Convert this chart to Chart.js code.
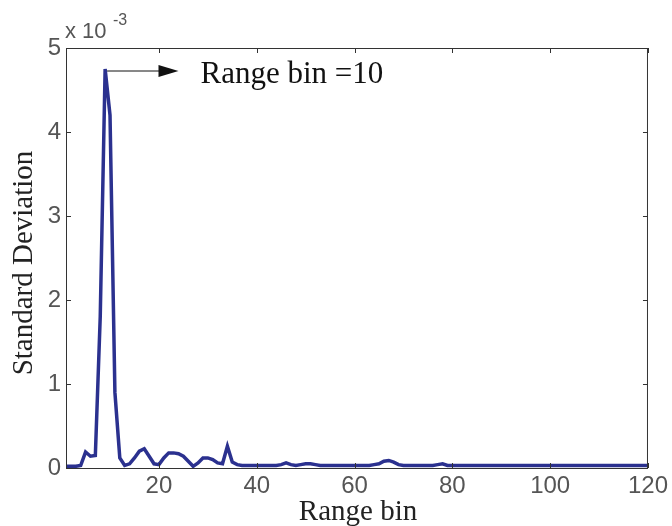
<!DOCTYPE html>
<html>
<head>
<meta charset="utf-8">
<script src="https://cdn.jsdelivr.net/npm/chart.js@4.4.0/dist/chart.umd.min.js"></script>
<style>
  html, body { margin: 0; padding: 0; background: #fff; }
  #wrap { width: 672px; height: 526px; }
</style>
</head>
<body>
<div id="wrap"><canvas id="c" width="672" height="526"></canvas></div>
<script>
// standard deviation per range bin, in units of 1e-3
const stdDev = [
  0.02, 0.02, 0.02, 0.03, 0.19, 0.14, 0.15, 1.8, 4.75, 4.2,
  0.9, 0.12, 0.03, 0.05, 0.12, 0.2, 0.23, 0.14, 0.05, 0.04,
  0.12, 0.18, 0.18, 0.17, 0.14, 0.08, 0.02, 0.06, 0.12, 0.12,
  0.1, 0.06, 0.05, 0.26, 0.07, 0.04, 0.03, 0.03, 0.03, 0.03,
  0.03, 0.03, 0.03, 0.03, 0.04, 0.06, 0.04, 0.03, 0.04, 0.05,
  0.05, 0.04, 0.03, 0.03, 0.03, 0.03, 0.03, 0.03, 0.03, 0.03,
  0.03, 0.03, 0.03, 0.04, 0.05, 0.08, 0.09, 0.07, 0.04, 0.03,
  0.03, 0.03, 0.03, 0.03, 0.03, 0.03, 0.04, 0.05, 0.03, 0.03,
  0.03, 0.03, 0.03, 0.03, 0.03, 0.03, 0.03, 0.03, 0.03, 0.03,
  0.03, 0.03, 0.03, 0.03, 0.03, 0.03, 0.03, 0.03, 0.03, 0.03,
  0.03, 0.03, 0.03, 0.03, 0.03, 0.03, 0.03, 0.03, 0.03, 0.03,
  0.03, 0.03, 0.03, 0.03, 0.03, 0.03, 0.03, 0.03, 0.03, 0.03
];
const bins = stdDev.map((_, i) => i + 1);
const xTicks = [20, 40, 60, 80, 100, 120];
const yTicks = [0, 1, 2, 3, 4, 5];
const peakBin = 9;
const peakLabel = 'Range bin =10';

const sans = '"Liberation Sans", Arial, sans-serif';
const serif = '"Liberation Serif", "Times New Roman", serif';

// matlab style box, inward ticks, titles and the peak arrow
const matlabAxes = {
  id: 'matlabAxes',
  afterDraw(chart) {
    const { ctx, chartArea: a, scales: { x, y } } = chart;
    ctx.save();
    ctx.strokeStyle = '#333';
    ctx.lineWidth = 1;
    ctx.strokeRect(a.left + 0.5, a.top + 0.5, a.right - a.left - 1, a.bottom - a.top);
    ctx.beginPath();
    xTicks.forEach(v => {
      const px = Math.round(x.getPixelForValue(v)) + 0.5;
      ctx.moveTo(px, a.bottom); ctx.lineTo(px, a.bottom - 5);
      ctx.moveTo(px, a.top); ctx.lineTo(px, a.top + 5);
    });
    yTicks.forEach(v => {
      const py = Math.round(y.getPixelForValue(v)) + 0.5;
      ctx.moveTo(a.left, py); ctx.lineTo(a.left + 5, py);
      ctx.moveTo(a.right, py); ctx.lineTo(a.right - 5, py);
    });
    ctx.stroke();

    // exponent
    ctx.fillStyle = '#555';
    ctx.textBaseline = 'alphabetic';
    ctx.font = '22px ' + sans;
    ctx.fillText('x 10', a.left - 1, 38);
    ctx.font = '16px ' + sans;
    ctx.fillText('-3', a.left + 47, 25);

    // axis titles
    ctx.fillStyle = '#222';
    ctx.font = '29px ' + serif;
    ctx.textAlign = 'center';
    ctx.fillText('Range bin', (a.left + a.right) / 2 + 1, 520);
    ctx.save();
    ctx.translate(32, (a.top + a.bottom) / 2 + 5);
    ctx.rotate(-Math.PI / 2);
    ctx.fillText('Standard Deviation', 0, 0);
    ctx.restore();

    // peak annotation
    const ay = y.getPixelForValue(stdDev[peakBin - 1]) + 2;
    const ax0 = x.getPixelForValue(peakBin) + 2;
    const ax1 = x.getPixelForValue(24);
    ctx.strokeStyle = '#111';
    ctx.beginPath();
    ctx.moveTo(ax0, ay); ctx.lineTo(ax1 - 14, ay);
    ctx.stroke();
    ctx.fillStyle = '#111';
    ctx.beginPath();
    ctx.moveTo(ax1, ay); ctx.lineTo(ax1 - 20, ay - 6); ctx.lineTo(ax1 - 20, ay + 6);
    ctx.closePath();
    ctx.fill();
    ctx.textAlign = 'left';
    ctx.font = '31px ' + serif;
    ctx.fillText(peakLabel, x.getPixelForValue(28.5), ay + 12);
    ctx.restore();
  }
};

new Chart(document.getElementById('c'), {
  type: 'line',
  data: {
    labels: bins,
    datasets: [{
      data: bins.map((b, i) => ({ x: b, y: stdDev[i] })),
      borderColor: '#2b318f',
      borderWidth: 3.5,
      pointRadius: 0,
      tension: 0,
      fill: false
    }]
  },
  options: {
    responsive: false,
    animation: false,
    layout: { padding: { left: 0, top: 48, right: 22, bottom: 0 } },
    plugins: { legend: { display: false }, tooltip: { enabled: false } },
    scales: {
      x: {
        type: 'linear',
        min: 1,
        max: 120,
        grid: { display: false, drawTicks: false },
        border: { display: false },
        afterBuildTicks: s => { s.ticks = xTicks.map(v => ({ value: v })); },
        afterFit: s => { s.height = 58; },
        ticks: { color: '#555', font: { family: sans, size: 24 }, padding: 4, maxRotation: 0 }
      },
      y: {
        min: 0,
        max: 5,
        grid: { display: false, drawTicks: false },
        border: { display: false },
        afterBuildTicks: s => { s.ticks = yTicks.map(v => ({ value: v })); },
        afterFit: s => { s.width = 66; },
        ticks: { color: '#555', font: { family: sans, size: 24 }, padding: 5 }
      }
    }
  },
  plugins: [matlabAxes]
});
</script>
</body>
</html>
